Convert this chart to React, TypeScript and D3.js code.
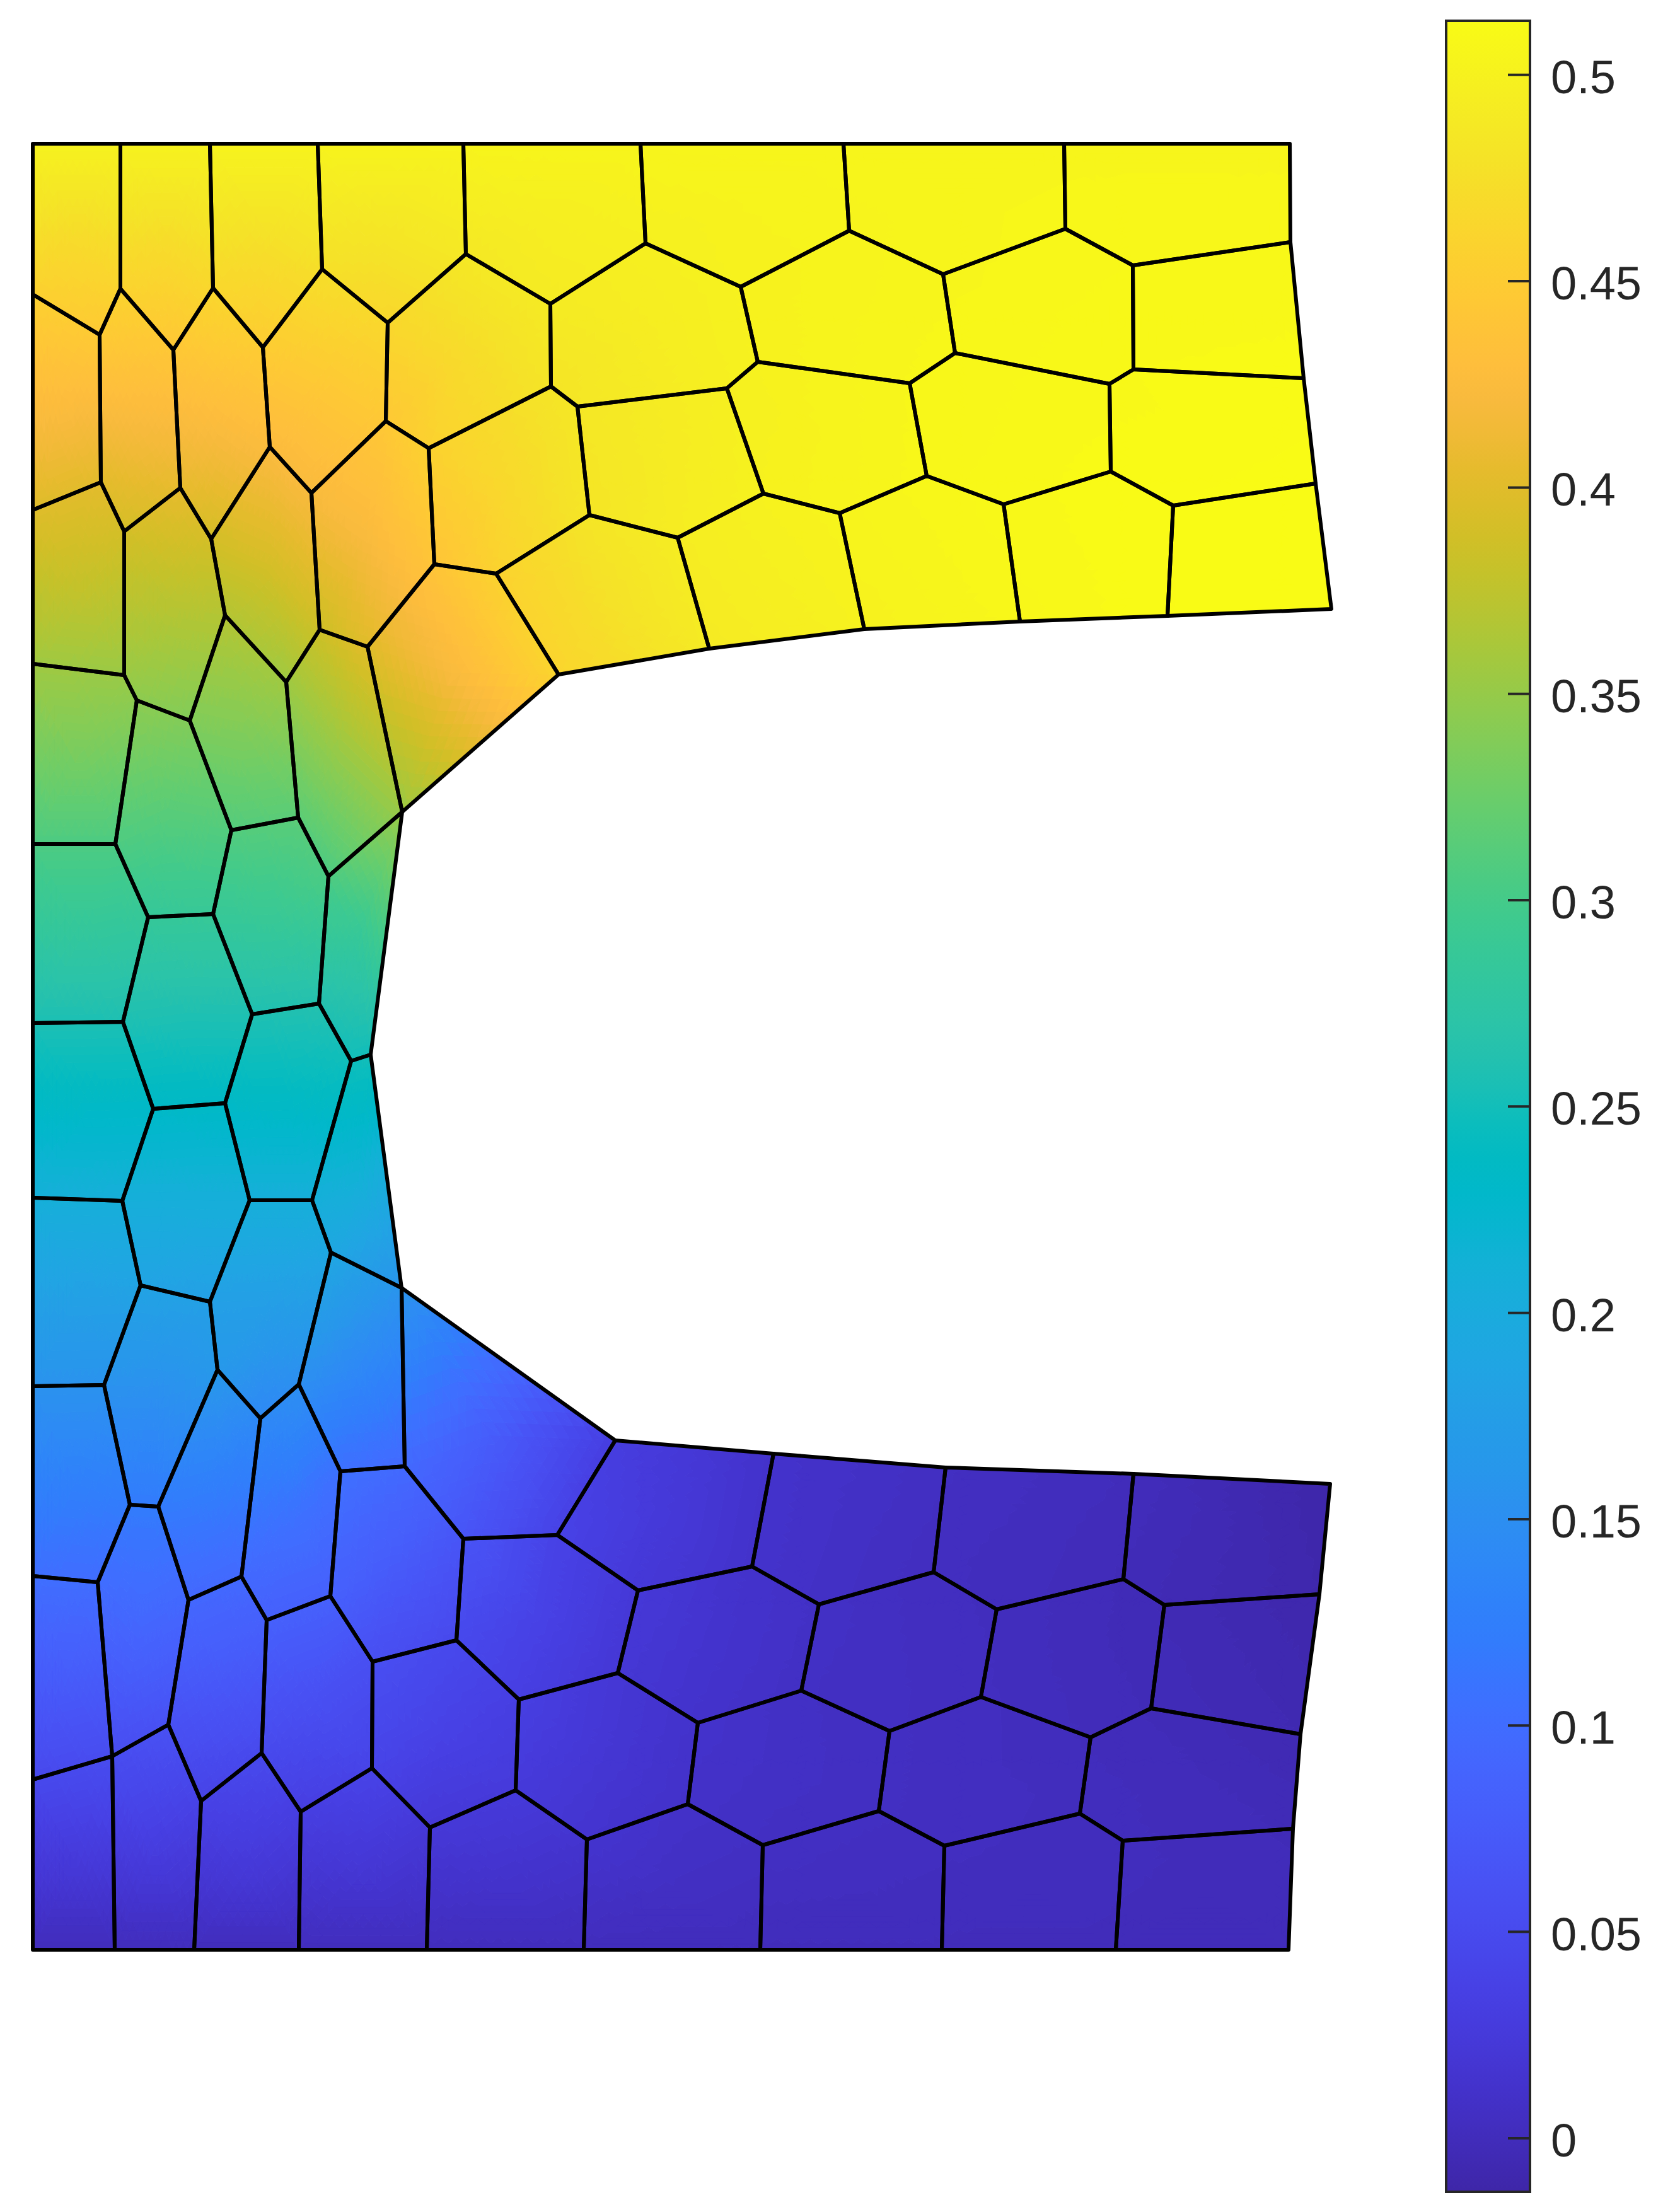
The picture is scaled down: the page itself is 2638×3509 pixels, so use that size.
import React, { useMemo } from "react";
import * as d3 from "d3";

// mesh nodes: [id, x, y, value], x and y in model units from the bottom left corner
const topEdgeNodes = [
  ["T0", 0, 2865, 0.5], ["T1", 139, 2865, 0.5], ["T2", 281, 2865, 0.501], ["T3", 452, 2865, 0.502],
  ["T4", 683, 2865, 0.503], ["T5", 964, 2865, 0.504], ["T6", 1286, 2865, 0.505], ["T7", 1636, 2865, 0.505],
  ["T8", 1994, 2865, 0.505],
];
const bottomEdgeNodes = [
  ["B0", 0, 0, 0], ["B1", 130, 0, 0], ["B2", 256, 0, 0.001], ["B3", 422, 0, 0.001], ["B4", 625, 0, 0.001],
  ["B5", 874, 0, 0.001], ["B6", 1154, 0, 0], ["B7", 1442, 0, 0], ["B8", 1718, 0, 0], ["B9", 1992, 0, 0],
];
const upperLeftNodes = [
  ["a1", 0, 2626, 0.456], ["a2", 106, 2562, 0.447], ["a3", 139, 2635, 0.46], ["a4", 223, 2538, 0.443],
  ["a5", 286, 2636, 0.465], ["a6", 365, 2542, 0.45], ["a7", 459, 2666, 0.475], ["a8", 563, 2581, 0.465],
  ["a9", 687, 2690, 0.487], ["a10", 560, 2425, 0.445], ["a11", 628, 2382, 0.457], ["a12", 376, 2384, 0.425],
  ["a13", 442, 2311, 0.422], ["a14", 108, 2328, 0.402], ["a15", 0, 2284, 0.398], ["a16", 145, 2250, 0.39],
  ["a17", 234, 2319, 0.405], ["a18", 283, 2238, 0.39], ["a19", 637, 2198, 0.44], ["a20", 735, 2183, 0.458],
  ["a21", 305, 2117, 0.368], ["a22", 455, 2094, 0.385],
];
const upperMiddleNodes = [
  ["b2", 821, 2611, 0.49], ["b3", 972, 2707, 0.497], ["b4", 1123, 2638, 0.5], ["b5", 1295, 2727, 0.503],
  ["b6", 1444, 2658, 0.505], ["b7", 822, 2480, 0.482], ["b8", 864, 2448, 0.485], ["b9", 1101, 2477, 0.497],
  ["b10", 1150, 2519, 0.5], ["b11", 1391, 2485, 0.506], ["b12", 883, 2276, 0.483], ["b13", 1023, 2240, 0.493],
  ["b14", 1159, 2310, 0.5], ["b15", 1280, 2279, 0.503], ["b16", 1418, 2338, 0.507], ["b18", 834, 2023, 0.462],
  ["b19", 1073, 2064, 0.49], ["b20", 1319, 2095, 0.5],
];
const upperRightNodes = [
  ["c1", 1638, 2730, 0.507], ["c3", 1745, 2672, 0.508], ["c4", 1995, 2709, 0.508], ["c5", 1463, 2533, 0.507],
  ["c7", 1746, 2507, 0.51], ["c8", 1708, 2484, 0.509], ["c9", 2016, 2493, 0.511], ["c11", 1540, 2293, 0.509],
  ["c12", 1710, 2345, 0.511], ["c13", 1809, 2291, 0.512], ["c14", 2035, 2326, 0.513], ["c15", 2060, 2127, 0.514],
  ["c16", 1800, 2116, 0.512], ["c17", 1566, 2107, 0.507],
];
const webUpperNodes = [
  ["d1", 0, 2040, 0.356], ["d2", 145, 2022, 0.352], ["d3", 165, 1982, 0.345], ["d4", 249, 1950, 0.338],
  ["d6", 402, 2011, 0.355], ["d8", 531, 2067, 0.4], ["d9", 586, 1805, 0.352], ["d10", 421, 1796, 0.315],
  ["d11", 315, 1776, 0.31], ["d12", 469, 1703, 0.305], ["d13", 0, 1754, 0.306], ["d14", 131, 1754, 0.306],
  ["d15", 183, 1638, 0.285], ["d16", 286, 1643, 0.287], ["d17", 0, 1470, 0.256], ["d18", 143, 1472, 0.257],
  ["d19", 348, 1484, 0.258], ["d20", 454, 1501, 0.262], ["d21", 505, 1410, 0.248], ["d22", 536, 1420, 0.25],
];
const webLowerNodes = [
  ["e1", 191, 1334, 0.232], ["e2", 305, 1343, 0.234], ["e3", 0, 1193, 0.208], ["e4", 142, 1188, 0.207],
  ["e5", 344, 1189, 0.207], ["e6", 443, 1189, 0.207], ["e7", 473, 1106, 0.19], ["e8", 585, 1050, 0.158],
  ["e9", 171, 1054, 0.184], ["e10", 281, 1028, 0.178], ["e11", 293, 920, 0.165], ["e12", 113, 896, 0.156],
  ["e13", 0, 894, 0.156], ["e14", 361, 843, 0.14], ["e15", 422, 897, 0.15], ["e16", 154, 706, 0.12],
  ["e17", 199, 703, 0.12], ["e18", 488, 759, 0.105], ["e19", 590, 767, 0.095],
];
const lowerLeftNodes = [
  ["f1", 0, 593, 0.103], ["f2", 103, 583, 0.1], ["f3", 247, 555, 0.093], ["f4", 331, 592, 0.095],
  ["f5", 371, 523, 0.082], ["f6", 472, 561, 0.082], ["f7", 683, 652, 0.065], ["f8", 672, 491, 0.047],
  ["f9", 539, 457, 0.056], ["f11", 215, 357, 0.06], ["f12", 126, 307, 0.053], ["f13", 0, 270, 0.047],
  ["f14", 363, 312, 0.048], ["f15", 267, 236, 0.038], ["f16", 425, 219, 0.032], ["f17", 538, 288, 0.04],
  ["f18", 630, 194, 0.022],
];
const lowerMiddleNodes = [
  ["g2", 924, 808, 0.03], ["g5", 832, 658, 0.038], ["g6", 1175, 787, 0.012], ["g7", 1141, 608, 0.012],
  ["g8", 960, 570, 0.022], ["g9", 1247, 548, 0.008], ["g11", 928, 439, 0.02], ["g12", 1219, 411, 0.007],
  ["g13", 771, 397, 0.033], ["g14", 1055, 360, 0.012], ["g15", 766, 253, 0.025], ["g16", 1039, 231, 0.01],
  ["g18", 879, 175, 0.015], ["g19", 1158, 166, 0.006],
];
const lowerRightNodes = [
  ["h1", 1448, 765, 0.005], ["h2", 1746, 755, 0], ["h3", 2058, 739, -0.012], ["h4", 1429, 599, 0.003],
  ["h5", 1730, 588, -0.002], ["h6", 1795, 547, -0.004], ["h7", 2041, 564, -0.01], ["h8", 1529, 540, 0.002],
  ["h10", 1504, 401, 0.003], ["h11", 1774, 383, -0.002], ["h12", 1359, 347, 0.005], ["h13", 1678, 337, 0],
  ["h14", 2011, 342, -0.006], ["h15", 1342, 220, 0.005], ["h16", 1661, 216, 0.002], ["h17", 1446, 165, 0.003],
  ["h18", 1729, 173, 0.001], ["h19", 1999, 192, -0.002],
];

// polygons, by node id
const upperCells = [
  "T0 T1 a3 a2 a1", "T1 T2 a5 a4 a3", "T2 T3 a7 a6 a5", "T3 T4 a9 a8 a7", "T4 T5 b3 b2 a9",
  "T5 T6 b5 b4 b3", "T6 T7 c1 b6 b5", "T7 T8 c4 c3 c1", "a1 a2 a14 a15", "a3 a4 a17 a16 a14 a2",
  "a5 a6 a12 a18 a17 a4", "a7 a8 a10 a13 a12 a6", "a9 b2 b7 a11 a10 a8", "b3 b4 b10 b9 b8 b7 b2",
  "b5 b6 c5 b11 b10 b4", "c1 c3 c7 c8 c5 b6", "c3 c4 c9 c7", "a15 a14 a16 d2 d1",
  "a16 a17 a18 a21 d4 d3 d2", "a18 a12 a13 a22 d6 a21", "a13 a10 a11 a19 d8 a22", "a11 b7 b8 b12 a20 a19",
  "b8 b9 b14 b13 b12", "b9 b10 b11 b16 b15 b14", "c5 c8 c12 c11 b16 b11", "c8 c7 c9 c14 c13 c12",
  "a20 b12 b13 b19 b18", "b13 b14 b15 b20 b19", "b15 b16 c11 c17 b20", "c11 c12 c13 c16 c17",
  "c13 c14 c15 c16", "a19 a20 b18 d9 d8", "a22 d8 d9 d12 d10 d6", "a21 d6 d10 d11 d4",
];
const webCells = [
  "d1 d2 d3 d14 d13", "d3 d4 d11 d16 d15 d14", "d11 d10 d12 d20 d19 d16", "d12 d9 d22 d21 d20",
  "d13 d14 d15 d18 d17", "d15 d16 d19 e2 e1 d18", "d19 d20 d21 e6 e5 e2", "d21 d22 e8 e7 e6",
  "d17 d18 e1 e4 e3", "e1 e2 e5 e10 e9 e4", "e5 e6 e7 e15 e14 e11 e10", "e3 e4 e9 e12 e13",
  "e9 e10 e11 e17 e16 e12", "e7 e8 e19 e18 e15",
];
const lowerCells = [
  "e8 g2 g5 f7 e19", "e13 e12 e16 f2 f1", "e16 e17 f3 f11 f12 f2", "e17 e11 e14 f4 f3",
  "e14 e15 e18 f6 f5 f4", "e18 e19 f7 f8 f9 f6", "f7 g5 g8 g11 g13 f8", "f1 f2 f12 f13",
  "f3 f4 f5 f14 f15 f11", "f5 f6 f9 f17 f16 f14", "f9 f8 g13 g15 f18 f17", "g13 g11 g14 g16 g18 g15",
  "g5 g2 g6 g7 g8", "g8 g7 g9 g12 g14 g11", "g6 h1 h4 g9 g7", "h1 h2 h5 h8 h4", "h2 h3 h7 h6 h5",
  "g9 h4 h8 h10 h12 g12", "h8 h5 h6 h11 h13 h10", "h6 h7 h14 h11", "g14 g12 h12 h15 g19 g16",
  "h12 h10 h13 h16 h17 h15", "h13 h11 h14 h19 h18 h16", "B0 B1 f12 f13", "B1 B2 f15 f11 f12",
  "B2 B3 f16 f14 f15", "B3 B4 f18 f17 f16", "B4 B5 g18 g15 f18", "B5 B6 g19 g16 g18",
  "B6 B7 h17 h15 g19", "B7 B8 h18 h16 h17", "B8 B9 h19 h18",
];

const tickValues = [0, 0.05, 0.1, 0.15, 0.2, 0.25, 0.3, 0.35, 0.4, 0.45, 0.5];
const tickLabels = ["0", "0.05", "0.1", "0.15", "0.2", "0.25", "0.3", "0.35", "0.4", "0.45", "0.5"];
const colorMin = -0.013;
const colorMax = 0.5131;

const parula = [
  [0.2422, 0.1504, 0.6603], [0.2504, 0.165, 0.7076], [0.2578, 0.1818, 0.7511], [0.2647, 0.1978, 0.7952],
  [0.2706, 0.2147, 0.8364], [0.2751, 0.2342, 0.871], [0.2783, 0.2559, 0.8991], [0.2803, 0.2782, 0.9221],
  [0.2813, 0.3006, 0.9414], [0.281, 0.3228, 0.9579], [0.2795, 0.3447, 0.9717], [0.276, 0.3667, 0.9829],
  [0.2699, 0.3892, 0.9906], [0.2602, 0.4123, 0.9952], [0.244, 0.4358, 0.9988], [0.2206, 0.4603, 0.9973],
  [0.1963, 0.4847, 0.9892], [0.1834, 0.5074, 0.9798], [0.1786, 0.5289, 0.9682], [0.1764, 0.5499, 0.952],
  [0.1687, 0.5703, 0.9359], [0.154, 0.5902, 0.9218], [0.146, 0.6091, 0.9079], [0.138, 0.6276, 0.8973],
  [0.1248, 0.6459, 0.8883], [0.1113, 0.6635, 0.8763], [0.0952, 0.6798, 0.8598], [0.0689, 0.6948, 0.8394],
  [0.0297, 0.7082, 0.8163], [0.0036, 0.7203, 0.7917], [0.0067, 0.7312, 0.766], [0.0433, 0.7411, 0.7394],
  [0.0964, 0.75, 0.712], [0.1408, 0.7584, 0.6842], [0.1717, 0.767, 0.6554], [0.1938, 0.7758, 0.6251],
  [0.2161, 0.7843, 0.5923], [0.247, 0.7918, 0.5567], [0.2906, 0.7973, 0.5188], [0.3406, 0.8008, 0.4789],
  [0.3909, 0.8029, 0.4354], [0.4456, 0.8024, 0.3909], [0.5044, 0.7993, 0.348], [0.5616, 0.7942, 0.3045],
  [0.6174, 0.7876, 0.2612], [0.672, 0.7793, 0.2227], [0.7242, 0.7698, 0.191], [0.7738, 0.7598, 0.1646],
  [0.8203, 0.7498, 0.1535], [0.8634, 0.7406, 0.1596], [0.9035, 0.733, 0.1774], [0.9393, 0.7288, 0.21],
  [0.9728, 0.7298, 0.2394], [0.9956, 0.7434, 0.2371], [0.997, 0.7659, 0.2199], [0.9952, 0.7893, 0.2028],
  [0.9892, 0.8136, 0.1885], [0.9786, 0.8386, 0.1766], [0.9676, 0.8639, 0.1643], [0.961, 0.889, 0.1537],
  [0.9597, 0.9135, 0.1423], [0.9628, 0.9373, 0.1265], [0.9691, 0.9606, 0.1064], [0.9769, 0.9839, 0.0805],
];

const WIDTH = 2638;
const HEIGHT = 3509;
const SUBDIV = 11;
const LEVELS = 256;

const xScale = d3.scaleLinear().domain([0, 2060]).range([52, 2112]);
const yScale = d3.scaleLinear().domain([0, 2865]).range([3093, 228]);
const barScale = d3.scaleLinear().domain([colorMin, colorMax]).range([3477, 33]);
const colorScale = d3
  .scaleLinear<string>()
  .domain(parula.map((_, i) => colorMin + ((colorMax - colorMin) * i) / (parula.length - 1)))
  .range(parula.map(([r, g, b]) => d3.rgb(r * 255, g * 255, b * 255).formatHex()))
  .interpolate(d3.interpolateRgb)
  .clamp(true);

const allNodes = [
  ...topEdgeNodes, ...bottomEdgeNodes, ...upperLeftNodes, ...upperMiddleNodes, ...upperRightNodes,
  ...webUpperNodes, ...webLowerNodes, ...lowerLeftNodes, ...lowerMiddleNodes, ...lowerRightNodes,
];
const nodeById = new Map(
  allNodes.map(([id, x, y, v]) => [id as string, { px: xScale(x as number), py: yScale(y as number), v: v as number }])
);
const cells = [...upperCells, ...webCells, ...lowerCells].map((c) => c.split(" ").map((id) => nodeById.get(id)!));

const fmt = (n: number) => n.toFixed(1);

// interpolated fill: fan each polygon round its centre, split into small triangles, group them by colour level
function buildFillPaths() {
  const levels: string[][] = d3.range(LEVELS).map(() => []);
  const levelOf = (v: number) =>
    Math.max(0, Math.min(LEVELS - 1, Math.round(((v - colorMin) / (colorMax - colorMin)) * (LEVELS - 1))));

  const addTri = (a: any, b: any, c: any) => {
    const lv = levelOf((a.v + b.v + c.v) / 3);
    levels[lv].push(`M${fmt(a.px)} ${fmt(a.py)}L${fmt(b.px)} ${fmt(b.py)}L${fmt(c.px)} ${fmt(c.py)}Z`);
  };

  cells.forEach((cell) => {
    const [cx, cy] = d3.polygonCentroid(cell.map((n) => [n.px, n.py] as [number, number]));
    const centre = { px: cx, py: cy, v: d3.mean(cell, (n) => n.v)! };
    cell.forEach((p, k) => {
      const q = cell[(k + 1) % cell.length];
      const at = (i: number, j: number) => {
        const u = i / SUBDIV;
        const w = j / SUBDIV;
        const t = 1 - u - w;
        return {
          px: t * centre.px + u * p.px + w * q.px,
          py: t * centre.py + u * p.py + w * q.py,
          v: t * centre.v + u * p.v + w * q.v,
        };
      };
      for (let i = 0; i < SUBDIV; i++) {
        for (let j = 0; j < SUBDIV - i; j++) {
          addTri(at(i, j), at(i + 1, j), at(i, j + 1));
          if (i + j < SUBDIV - 1) addTri(at(i + 1, j), at(i + 1, j + 1), at(i, j + 1));
        }
      }
    });
  });

  return levels.map((segs, i) => ({
    d: segs.join(""),
    color: colorScale(colorMin + ((colorMax - colorMin) * i) / (LEVELS - 1)),
  }));
}

const outline = d3
  .line<any>()
  .x((n) => n.px)
  .y((n) => n.py)
  .curve(d3.curveLinearClosed);

export default function App() {
  const fills = useMemo(buildFillPaths, []);
  const barLeft = 2294;
  const barRight = 2427;
  const ink = "#262626";

  return (
    <svg
      width={WIDTH}
      height={HEIGHT}
      viewBox={`0 0 ${WIDTH} ${HEIGHT}`}
      style={{ position: "absolute", left: 0, top: 0, display: "block", background: "#fff" }}
    >
      <defs>
        <linearGradient id="parulaBar" x1="0" y1="1" x2="0" y2="0">
          {parula.map((_, i) => {
            const t = i / (parula.length - 1);
            return <stop key={i} offset={t} stopColor={colorScale(colorMin + (colorMax - colorMin) * t)} />;
          })}
        </linearGradient>
      </defs>

      <g>
        {fills.map((f, i) =>
          f.d ? <path key={i} d={f.d} fill={f.color} stroke={f.color} strokeWidth={1} /> : null
        )}
      </g>
      <g fill="none" stroke="#000" strokeWidth={6} strokeLinejoin="round">
        {cells.map((cell, i) => (
          <path key={i} d={outline(cell) as string} />
        ))}
      </g>

      <rect
        x={barLeft}
        y={barScale(colorMax)}
        width={barRight - barLeft}
        height={barScale(colorMin) - barScale(colorMax)}
        fill="url(#parulaBar)"
      />
      <g stroke={ink} strokeWidth={4}>
        {tickValues.map((v) => (
          <line key={v} x1={barRight - 35} x2={barRight} y1={barScale(v)} y2={barScale(v)} />
        ))}
      </g>
      <rect
        x={barLeft}
        y={barScale(colorMax)}
        width={barRight - barLeft}
        height={barScale(colorMin) - barScale(colorMax)}
        fill="none"
        stroke={ink}
        strokeWidth={4}
      />
      <g fontFamily="'Liberation Sans', Arial, sans-serif" fontSize={74} fill={ink}>
        {tickValues.map((v, i) => (
          <text key={v} x={barRight + 33} y={barScale(v) + 29}>
            {tickLabels[i]}
          </text>
        ))}
      </g>
    </svg>
  );
}
